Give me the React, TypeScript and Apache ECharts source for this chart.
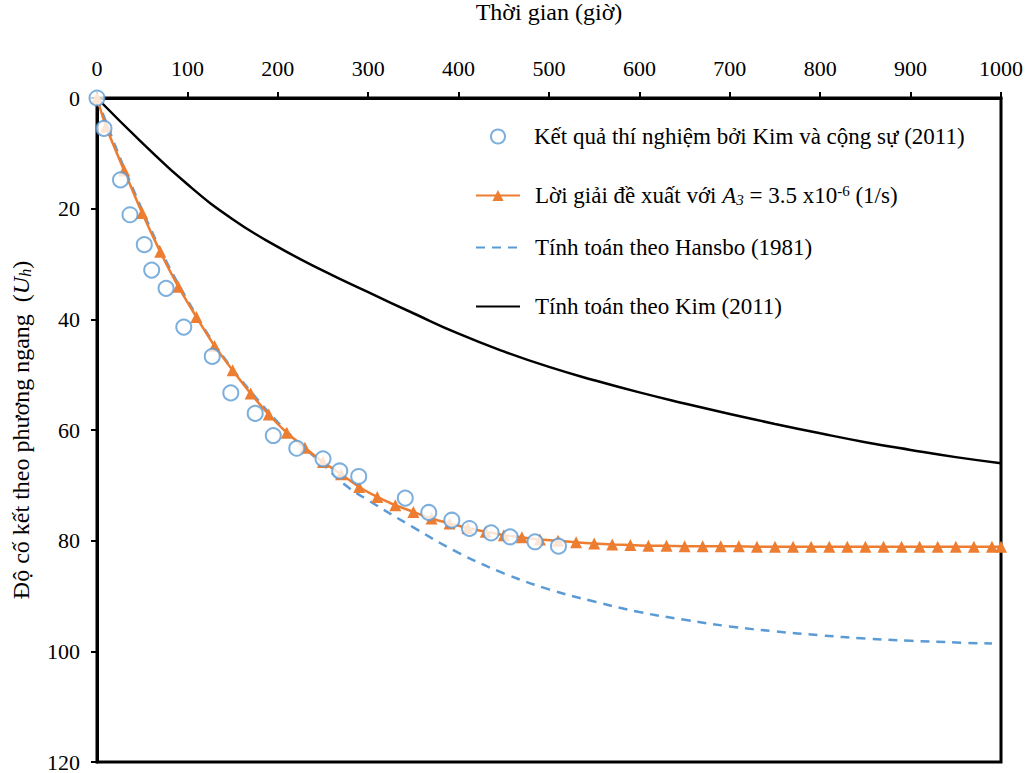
import React, { useEffect, useRef } from "react";
import * as echarts from "echarts";

const FONT = "'Liberation Serif', 'Times New Roman', serif";

// Experimental results (Kim et al., 2011)
const expX = [0, 7.7, 26, 36.5, 52.3, 60.5, 76.4, 96, 127.5, 148, 175, 195, 221, 250, 268.5, 289.5, 341, 367, 392.5, 412, 436, 457, 484.5, 510.5];
const expY = [0, 5.5, 14.8, 21.1, 26.5, 31.1, 34.4, 41.4, 46.7, 53.3, 57.0, 61.0, 63.3, 65.2, 67.4, 68.4, 72.3, 74.9, 76.3, 77.8, 78.6, 79.3, 80.2, 81.0];

// Proposed solution, A3 = 3.5e-6 1/s
const propX = [0, 10, 30, 50, 70, 90, 110, 130, 150, 170, 190, 210, 230, 250, 270, 290, 310, 330, 350, 370, 390, 410, 430, 450, 470, 490, 510, 530, 550, 570, 590, 610, 630, 650, 670, 690, 710, 730, 750, 770, 790, 810, 830, 850, 870, 890, 910, 930, 950, 970, 990, 1000];
const propY = [0, 5.2, 13.1, 20.8, 27.8, 34.1, 39.6, 44.8, 49.2, 53.4, 57.2, 60.5, 63.2, 65.8, 68.0, 70.3, 72.1, 73.6, 74.8, 76.0, 76.9, 77.7, 78.4, 79.0, 79.4, 79.8, 80.0, 80.3, 80.5, 80.7, 80.8, 80.9, 80.9, 81.0, 81.0, 81.0, 81.0, 81.1, 81.1, 81.1, 81.1, 81.1, 81.1, 81.1, 81.1, 81.1, 81.1, 81.1, 81.1, 81.1, 81.1, 81.1];

// Hansbo (1981)
const hansX = [0, 20, 40, 60, 80, 100, 125, 150, 175, 200, 225, 250, 275, 300, 350, 400, 450, 500, 550, 600, 650, 700, 750, 800, 850, 900, 950, 990];
const hansY = [0, 8.6, 16.5, 23.9, 30.6, 36.5, 43.3, 49.0, 54.0, 58.6, 62.6, 66.2, 70.0, 72.7, 77.6, 82.2, 85.9, 88.8, 91.0, 92.9, 94.3, 95.5, 96.4, 97.1, 97.7, 98.1, 98.4, 98.6];

// Kim (2011)
const kimX = [0, 50, 100, 150, 200, 250, 300, 350, 400, 450, 500, 550, 600, 650, 700, 750, 800, 850, 900, 950, 1000];
const kimY = [0, 8.1, 15.6, 21.9, 26.9, 31.2, 35.1, 38.9, 42.6, 45.8, 48.6, 51.0, 53.2, 55.2, 57.1, 58.9, 60.6, 62.2, 63.6, 64.9, 66.0];

const xTicks = { min: 0, max: 1000, interval: 100 };
const yTicks = { min: 0, max: 120, interval: 20 };

const N_EXP = "Kết quả thí nghiệm bởi Kim và cộng sự (2011)";
const N_PROP = "Lời giải đề xuất với A3 = 3.5 x10-6 (1/s)";
const N_HANS = "Tính toán theo Hansbo (1981)";
const N_KIM = "Tính toán theo Kim (2011)";

const zip = (xs: number[], ys: number[]) => xs.map((x, i) => [x, ys[i]]);

const BLUE = "#5B9BD5";
const ORANGE = "#ED7D31";

export default function App() {
  const ref = useRef<HTMLDivElement>(null);
  useEffect(() => {
    if (!ref.current) return;
    const chart = echarts.init(ref.current, undefined, { renderer: "svg" });
    const FS = 23;
    const baseText = { color: "#000", fontFamily: FONT, fontSize: FS };
    const rich = {
      i: { fontStyle: "italic", fontFamily: FONT, fontSize: FS, color: "#000" },
      sub: { fontStyle: "italic", fontFamily: FONT, fontSize: 15, color: "#000", padding: [9, 0, 0, 0] },
      sup: { fontFamily: FONT, fontSize: 15, color: "#000", padding: [0, 0, 10, 0] },
    };
    const richY = {
      i: { fontStyle: "italic", fontFamily: FONT, fontSize: 24, color: "#000" },
      sub: { fontStyle: "italic", fontFamily: FONT, fontSize: 16, color: "#000", padding: [9, 0, 0, 0] },
    };
    const legendBase = {
      left: 470,
      itemWidth: 44,
      itemHeight: 14,
      selectedMode: false,
      formatter: (name: string) => {
        if (name === N_PROP) return "Lời giải đề xuất với {i|A}{sub|3} = 3.5 x10{sup|-6} (1/s)";
        return name;
      },
    };
    const lineText = { ...baseText, padding: [0, 0, 0, 10], rich };
    chart.setOption({
      animation: false,
      backgroundColor: "#fff",
      grid: {
        left: 97, right: 31, top: 98, bottom: 11,
        outerBoundsMode: "none",
        containLabel: false,
        show: true, borderColor: "#000", borderWidth: 3,
      },
      xAxis: {
        type: "value",
        position: "top",
        ...xTicks,
        name: "Thời gian (giờ)",
        nameLocation: "middle",
        nameGap: 74,
        nameTextStyle: { ...baseText, fontSize: 24 },
        axisLine: { show: true, lineStyle: { color: "#000", width: 3 } },
        axisTick: { show: true, inside: false, length: 6, lineStyle: { color: "#000", width: 2 } },
        axisLabel: { ...baseText, fontSize: 22, margin: 19, formatter: (v: number) => String(v) },
        splitLine: { show: false },
      },
      yAxis: {
        type: "value",
        inverse: true,
        ...yTicks,
        name: "Độ cố kết theo phương ngang  ({i|U}{sub|h})",
        nameLocation: "middle",
        nameGap: 64,
        nameTextStyle: { ...baseText, fontSize: 24, rich: richY },
        axisLine: { show: true, lineStyle: { color: "#000", width: 3 } },
        axisTick: { show: true, inside: false, length: 6, lineStyle: { color: "#000", width: 2 } },
        axisLabel: { ...baseText, fontSize: 22, margin: 17 },
        splitLine: { show: false },
      },
      legend: [
        { ...legendBase, left: 485, top: 120, data: [N_EXP], textStyle: { ...baseText, padding: [0, 0, 0, 9], rich } },
        { ...legendBase, top: 178, data: [N_PROP], textStyle: lineText },
        { ...legendBase, top: 231, data: [N_HANS], itemStyle: { opacity: 0 }, textStyle: lineText },
        { ...legendBase, top: 290, data: [N_KIM], itemStyle: { opacity: 0 }, textStyle: lineText },
      ],
      series: [
        {
          name: N_KIM,
          type: "line",
          data: zip(kimX, kimY),
          symbol: "none",
          smooth: 0.5,
          lineStyle: { color: "#000", width: 2.5 },
          itemStyle: { color: "#000" },
          z: 2,
        },
        {
          name: N_HANS,
          type: "line",
          data: zip(hansX, hansY),
          symbol: "none",
          smooth: 0.4,
          lineStyle: { color: BLUE, width: 2.5, type: [9, 7] },
          itemStyle: { color: BLUE },
          z: 3,
        },
        {
          name: N_PROP,
          type: "line",
          data: zip(propX, propY),
          symbol: "triangle",
          symbolSize: 12,
          showAllSymbol: true,
          smooth: 0.2,
          clip: false,
          lineStyle: { color: ORANGE, width: 2.5 },
          itemStyle: { color: ORANGE },
          z: 4,
        },
        {
          name: N_EXP,
          type: "scatter",
          data: zip(expX, expY),
          symbol: "emptyCircle",
          symbolSize: 15,
          clip: false,
          itemStyle: { color: BLUE, borderColor: BLUE, borderWidth: 2.5 },
          z: 5,
        },
      ],
    });
    return () => chart.dispose();
  }, []);
  return <div ref={ref} style={{ position: "fixed", left: 0, top: 0, width: 1032, height: 773 }} />;
}
